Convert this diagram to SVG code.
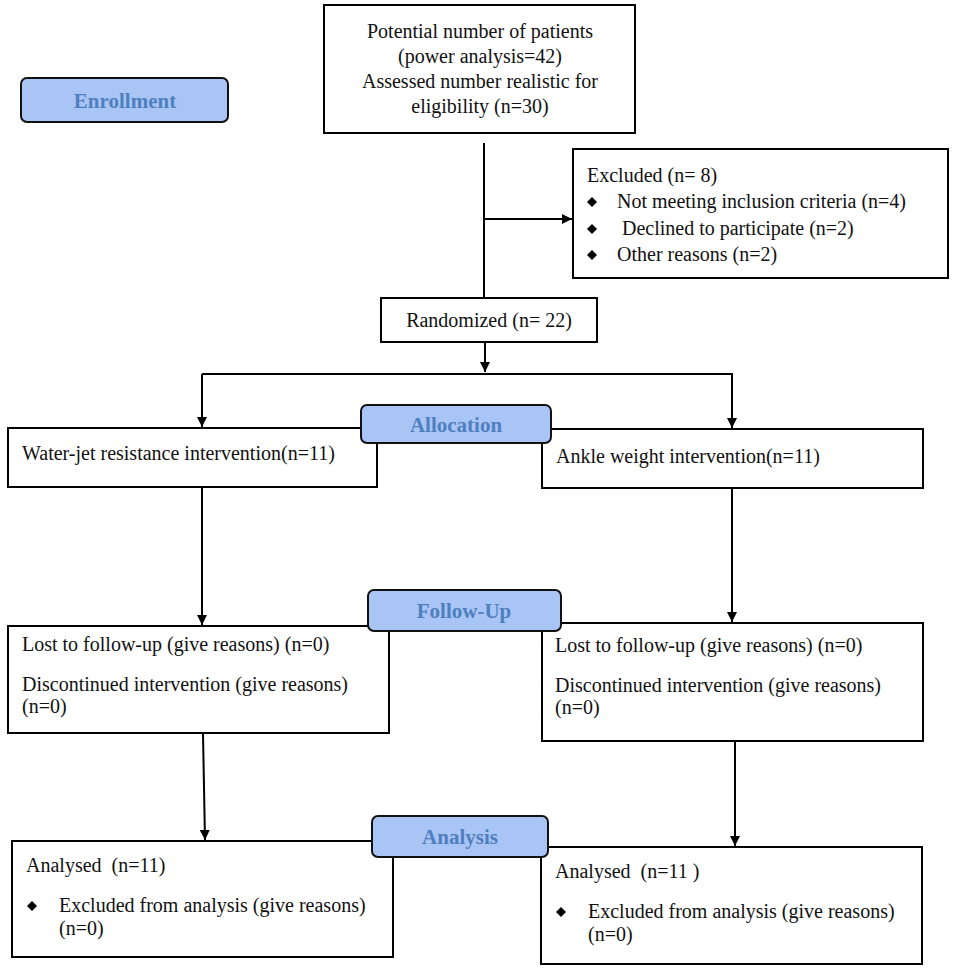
<svg xmlns="http://www.w3.org/2000/svg" width="957" height="974" viewBox="0 0 957 974">
<defs>
<style>
.box{fill:#fff;stroke:#000;stroke-width:2}
.lab{fill:#a9c5f5;stroke:#111;stroke-width:2}
.t{font-family:"Liberation Serif","Times New Roman",serif;font-size:20px;fill:#111}
.lt{font-family:"Liberation Serif","Times New Roman",serif;font-size:21px;font-weight:bold;fill:#4f7fbf;text-anchor:middle}
.c{text-anchor:middle}
.ln{stroke:#000;stroke-width:2;fill:none}
</style>
<marker id="ah" viewBox="0 0 10 10" refX="10" refY="5" markerWidth="5" markerHeight="5" orient="auto" markerUnits="strokeWidth">
<path d="M0,0 L10,5 L0,10 z" fill="#000"/>
</marker>
<path id="dia" d="M0,-5 L5,0 L0,5 L-5,0 z" fill="#000"/>
</defs>
<rect width="957" height="974" fill="#fff"/>

<g id="connectors">
<line class="ln" x1="484" y1="143" x2="484" y2="297"/>
<line class="ln" x1="484" y1="219" x2="572" y2="219" marker-end="url(#ah)"/>
<line class="ln" x1="485" y1="343" x2="485" y2="372" marker-end="url(#ah)"/>
<line class="ln" x1="202" y1="374" x2="733" y2="374"/>
<line class="ln" x1="202" y1="374" x2="202" y2="427" marker-end="url(#ah)"/>
<line class="ln" x1="732" y1="374" x2="732" y2="428" marker-end="url(#ah)"/>
<line class="ln" x1="202" y1="488" x2="202" y2="625" marker-end="url(#ah)"/>
<line class="ln" x1="732" y1="489" x2="732" y2="622" marker-end="url(#ah)"/>
<line class="ln" x1="203" y1="734" x2="205" y2="840" marker-end="url(#ah)"/>
<line class="ln" x1="735" y1="742" x2="735" y2="846" marker-end="url(#ah)"/>
</g>

<g id="top">
<rect class="box" x="324" y="5" width="311" height="128"/>
<text class="t c" x="480" y="38">Potential number of patients</text>
<text class="t c" x="480" y="63">(power analysis=42)</text>
<text class="t c" x="480" y="88">Assessed number realistic for</text>
<text class="t c" x="480" y="113">eligibility (n=30)</text>
</g>

<g id="enrollment">
<rect class="lab" x="21" y="78" width="207" height="44" rx="6"/>
<text class="lt" x="125" y="108">Enrollment</text>
</g>

<g id="excluded">
<rect class="box" x="573" y="149" width="375" height="129"/>
<text class="t" x="587" y="182">Excluded  (n= 8)</text>
<use href="#dia" x="592" y="202"/>
<text class="t" x="617" y="208">Not meeting inclusion criteria (n=4)</text>
<use href="#dia" x="592" y="229"/>
<text class="t" x="617" y="235" xml:space="preserve"> Declined to participate (n=2)</text>
<use href="#dia" x="592" y="255"/>
<text class="t" x="617" y="261">Other reasons (n=2)</text>
</g>

<g id="randomized">
<rect class="box" x="381" y="298" width="216" height="44"/>
<text class="t c" x="489" y="327">Randomized (n= 22)</text>
</g>

<g id="waterjet">
<rect class="box" x="8" y="428" width="369" height="59"/>
<text class="t" x="22" y="460">Water-jet resistance intervention(n=11)</text>
</g>

<g id="ankle">
<rect class="box" x="542" y="429" width="381" height="59"/>
<text class="t" x="556" y="463">Ankle weight intervention(n=11)</text>
</g>

<g id="allocation">
<rect class="lab" x="361" y="405" width="190" height="38" rx="6"/>
<text class="lt" x="456" y="432">Allocation</text>
</g>

<g id="fu-left">
<rect class="box" x="8" y="626" width="381" height="107"/>
<text class="t" x="22" y="651">Lost to follow-up (give reasons) (n=0)</text>
<text class="t" x="22" y="691">Discontinued intervention (give reasons)</text>
<text class="t" x="22" y="713">(n=0)</text>
</g>

<g id="fu-right">
<rect class="box" x="542" y="623" width="381" height="118"/>
<text class="t" x="555" y="652">Lost to follow-up (give reasons) (n=0)</text>
<text class="t" x="555" y="692">Discontinued intervention (give reasons)</text>
<text class="t" x="555" y="714">(n=0)</text>
</g>

<g id="followup">
<rect class="lab" x="368" y="590" width="193" height="41" rx="6"/>
<text class="lt" x="464" y="618">Follow-Up</text>
</g>

<g id="an-left">
<rect class="box" x="12" y="841" width="381" height="116"/>
<text class="t" x="26" y="872" xml:space="preserve">Analysed  (n=11)</text>
<use href="#dia" x="32" y="906"/>
<text class="t" x="59" y="912">Excluded from analysis (give reasons)</text>
<text class="t" x="59" y="935">(n=0)</text>
</g>

<g id="an-right">
<rect class="box" x="541" y="847" width="381" height="117"/>
<text class="t" x="555" y="878" xml:space="preserve">Analysed  (n=11 )</text>
<use href="#dia" x="561" y="912"/>
<text class="t" x="588" y="918">Excluded from analysis (give reasons)</text>
<text class="t" x="588" y="941">(n=0)</text>
</g>

<g id="analysis">
<rect class="lab" x="372" y="816" width="176" height="41" rx="6"/>
<text class="lt" x="460" y="844">Analysis</text>
</g>
</svg>
